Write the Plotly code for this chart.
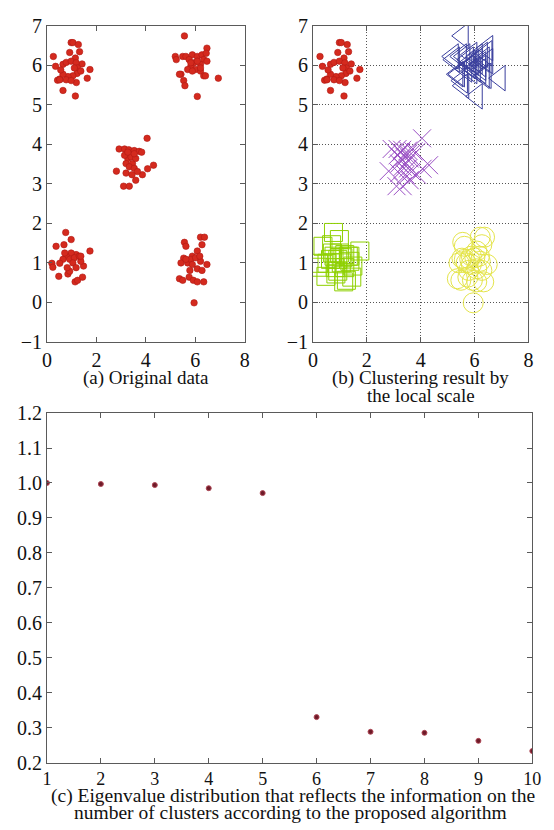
import plotly.graph_objects as go

# ---- point clusters (x, y) ----
tl_x = [0.26, 0.35, 0.43, 0.65, 1.15, 0.98, 1.05, 1.27, 1.32, 0.92, 1.15, 1.42, 1.74, 1.63, 1.19, 0.52,
        0.65, 0.78, 0.98, 1.18, 1.24, 1.22, 1.05, 0.85, 0.65, 0.56, 0.78, 0.52, 0.98, 1.37, 1.11]
tl_y = [6.22, 5.97, 5.62, 5.36, 5.22, 6.57, 6.57, 6.52, 6.34, 6.32, 6.18, 6.03, 5.89, 5.67, 5.56, 5.65,
        6.02, 6.07, 6.10, 6.06, 5.93, 5.79, 5.73, 5.71, 5.77, 5.88, 5.63, 5.63, 5.61, 5.85, 5.93]

tr_x = [5.56, 5.19, 5.23, 5.49, 5.62, 5.88, 6.08, 6.27, 6.47, 6.44, 6.34, 6.47, 6.21, 5.95, 5.82, 5.69,
        6.01, 6.21, 5.42, 5.36, 5.53, 5.58, 6.08, 6.34, 6.41, 6.93, 5.75, 6.08, 5.88, 6.21, 5.82]
tr_y = [6.74, 6.22, 6.14, 6.22, 6.22, 6.26, 6.22, 6.26, 6.43, 6.30, 6.14, 6.10, 6.02, 6.06, 5.97, 5.89,
        5.89, 5.85, 5.77, 5.77, 5.61, 5.48, 5.21, 5.73, 5.73, 5.67, 6.14, 6.10, 5.85, 5.93, 6.06]

mid_x = [2.92, 3.14, 3.31, 3.53, 3.73, 3.83, 4.05, 2.81, 3.10, 3.33, 3.59, 3.86, 4.07, 4.31, 3.20, 3.27,
         3.40, 3.20, 3.46, 3.59, 3.33, 3.53, 3.66, 3.44, 3.14, 3.53, 3.27]
mid_y = [3.88, 3.88, 3.86, 3.84, 3.82, 3.80, 4.15, 3.32, 2.94, 2.94, 3.09, 3.23, 3.38, 3.47, 3.27, 3.64,
         3.68, 3.51, 3.51, 3.64, 3.43, 3.39, 3.31, 3.23, 3.72, 3.76, 3.80]

bl_x = [0.76, 0.98, 0.37, 0.69, 1.74, 0.20, 0.24, 0.48, 0.85, 0.92, 1.14, 1.24, 1.44, 1.48, 1.37, 1.18,
        0.98, 0.78, 0.65, 0.52, 0.92, 1.11, 1.31, 1.05, 0.82, 1.18, 1.37, 0.72]
bl_y = [1.77, 1.59, 1.42, 1.46, 1.30, 0.99, 0.89, 0.66, 0.72, 0.79, 0.52, 0.56, 0.64, 0.92, 1.04, 1.21,
        1.25, 1.17, 1.09, 0.99, 1.09, 1.13, 1.17, 1.00, 0.88, 0.88, 1.17, 1.25]

br_x = [5.56, 5.62, 6.21, 6.37, 6.27, 5.53, 5.69, 5.42, 5.88, 6.08, 6.21, 6.47, 6.08, 6.27, 5.36, 5.49,
        5.75, 5.92, 6.08, 6.34, 5.95, 5.82, 6.01, 5.88, 5.62, 5.78, 6.18]
br_y = [1.52, 1.42, 1.65, 1.65, 1.46, 1.12, 1.00, 1.00, 1.17, 1.30, 1.04, 0.96, 0.85, 0.81, 0.60, 0.56,
        0.64, 0.56, 0.52, 0.52, -0.01, 1.09, 1.13, 0.96, 1.09, 0.81, 1.17]

# ---- eigenvalue distribution ----
eig_idx = [1, 2, 3, 4, 5, 6, 7, 8, 9, 10]
eig_val = [1.000, 0.997, 0.994, 0.985, 0.971, 0.330, 0.288, 0.285, 0.262, 0.233]

W, H = 554, 830
FONT = "Liberation Serif"
RED = "#d42a1e"
FRAME = "#5a5a5a"

fig = go.Figure()

all_x = tl_x + tr_x + mid_x + bl_x + br_x
all_y = tl_y + tr_y + mid_y + bl_y + br_y

# (a) original data
fig.add_trace(go.Scatter(x=all_x, y=all_y, mode="markers", xaxis="x", yaxis="y",
                         marker=dict(symbol="circle", size=6.5, color=RED,
                                     line=dict(color="#b01a14", width=0.6)),
                         showlegend=False))

# (b) clustering result
fig.add_trace(go.Scatter(x=bl_x, y=bl_y, mode="markers", xaxis="x2", yaxis="y2",
                         marker=dict(symbol="square-open", size=18, color="#8ed000",
                                     line=dict(width=1)), showlegend=False))
fig.add_trace(go.Scatter(x=br_x, y=br_y, mode="markers", xaxis="x2", yaxis="y2",
                         marker=dict(symbol="circle-open", size=20, color="#e4e44a",
                                     line=dict(width=1)), showlegend=False))
fig.add_trace(go.Scatter(x=mid_x, y=mid_y, mode="markers", xaxis="x2", yaxis="y2",
                         marker=dict(symbol="x-thin-open", size=18, color="#9a4fc4",
                                     line=dict(width=1)), showlegend=False))
fig.add_trace(go.Scatter(x=tr_x, y=tr_y, mode="markers", xaxis="x2", yaxis="y2",
                         marker=dict(symbol="triangle-left-open", size=22, color="#3a3f9e",
                                     line=dict(width=1)), showlegend=False))
fig.add_trace(go.Scatter(x=tl_x, y=tl_y, mode="markers", xaxis="x2", yaxis="y2",
                         marker=dict(symbol="circle", size=6.5, color=RED,
                                     line=dict(color="#b01a14", width=0.6)),
                         showlegend=False))

# (c) eigenvalues
fig.add_trace(go.Scatter(x=eig_idx, y=eig_val, mode="markers", xaxis="x3", yaxis="y3",
                         marker=dict(symbol="circle", size=5, color="#6e1a28",
                                     line=dict(color="#b04a58", width=1)),
                         showlegend=False))

tick_font = dict(family=FONT, size=20, color="#111111")


def axis(domain, rng, dtick, anchor, grid=False, fmt=None, font=tick_font):
    d = dict(domain=domain, range=rng, dtick=dtick, tick0=rng[0], anchor=anchor,
             showline=True, linecolor=FRAME, linewidth=1, mirror="ticks",
             ticks="inside", ticklen=5, tickcolor=FRAME, tickwidth=1,
             tickfont=font, zeroline=False, showgrid=grid, fixedrange=True)
    if grid:
        d.update(gridcolor="#555555", griddash="1px,2px", gridwidth=1)
    if fmt:
        d["tickformat"] = fmt
    return d


ya_dom = [1 - 340 / H, 1 - 15 / H]
fig.update_layout(
    width=W, height=H,
    margin=dict(l=0, r=0, t=0, b=0),
    paper_bgcolor="white", plot_bgcolor="white",
    font=dict(family=FONT, color="#111111"),
    xaxis=axis([43 / W, 246 / W], [0, 8], 2, "y"),
    yaxis=axis(ya_dom, [-1, 7], 1, "x"),
    xaxis2=axis([316 / W, 537 / W], [0, 8], 2, "y2", grid=True),
    yaxis2=axis(ya_dom, [-1, 7], 1, "x2", grid=True),
    xaxis3=axis([43 / W, 541 / W], [1, 10], 1, "y3",
                font=dict(family=FONT, size=18, color="#111111")),
    yaxis3=axis([1 - 772 / H, 1 - 413 / H], [0.2, 1.2], 0.1, "x3", fmt=".1f"),
)

captions = [
    ((43 + 246) / 2, 377, "(a) Original data", 19),
    ((316 + 537) / 2, 377, "(b) Clustering result by", 19),
    ((316 + 537) / 2, 395, "the local scale", 19),
    (295, 806, "(c) Eigenvalue distribution that reflects the information on the", 19.5),
    (293, 823, "number of clusters according to the proposed algorithm", 19.5),
]
for cx, cy, txt, fs in captions:
    fig.add_annotation(x=cx / W, y=1 - cy / H, xref="paper", yref="paper", text=txt,
                       showarrow=False, font=dict(family=FONT, size=fs, color="#111111"),
                       xanchor="center", yanchor="middle", align="center")

fig.write_html("out.html")
